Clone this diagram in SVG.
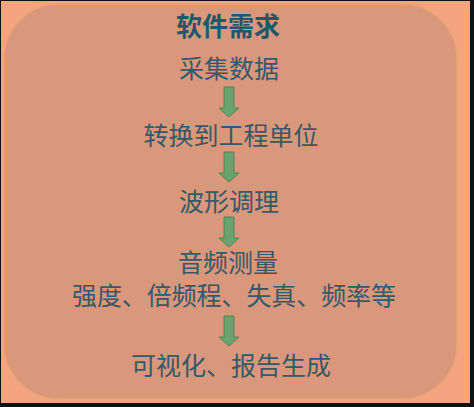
<svg xmlns="http://www.w3.org/2000/svg" xmlns:xlink="http://www.w3.org/1999/xlink" width="474" height="407" viewBox="0 0 474 407">
<style>
.t{font-family:"Noto Sans CJK SC","Noto Sans",sans-serif;font-size:25px;fill:#35596A;text-anchor:middle}
.title{font-family:"Noto Sans CJK SC","Noto Sans",sans-serif;font-size:26px;font-weight:bold;fill:#1E586C;text-anchor:middle}
.arr{fill:#69A46E;stroke:#4E8458;stroke-width:1}
</style>
<defs>
<path id="arrow" class="arr" d="M-5,0 H5 V21 H10 L0,30 L-10,21 H-5 Z"/>
</defs>
<rect x="0" y="0" width="474" height="407" fill="#111"/>
<rect x="1" y="1" width="469" height="402" fill="#F4A47F"/>
<g id="panel">
<rect x="4" y="4" width="453" height="395" rx="55" ry="55" fill="#D9977B" stroke="#E5A676" stroke-width="1.5"/>
</g>
<g id="title"><text class="title" x="228" y="36">软件需求</text></g>
<g id="n1"><text class="t" x="229" y="78">采集数据</text></g>
<g id="n2"><text class="t" x="231" y="145">转换到工程单位</text></g>
<g id="n3"><text class="t" x="229" y="211">波形调理</text></g>
<g id="n4"><text class="t" x="228" y="272">音频测量</text>
<text class="t" x="234" y="305" textLength="324" lengthAdjust="spacing">强度、倍频程、失真、频率等</text></g>
<g id="n5"><text class="t" x="231" y="375">可视化、报告生成</text></g>
<g id="connectors">
<use xlink:href="#arrow" href="#arrow" transform="translate(229,87)"/>
<use xlink:href="#arrow" href="#arrow" transform="translate(229,152)"/>
<use xlink:href="#arrow" href="#arrow" transform="translate(229,217)"/>
<use xlink:href="#arrow" href="#arrow" transform="translate(229,316)"/>
</g>
</svg>
